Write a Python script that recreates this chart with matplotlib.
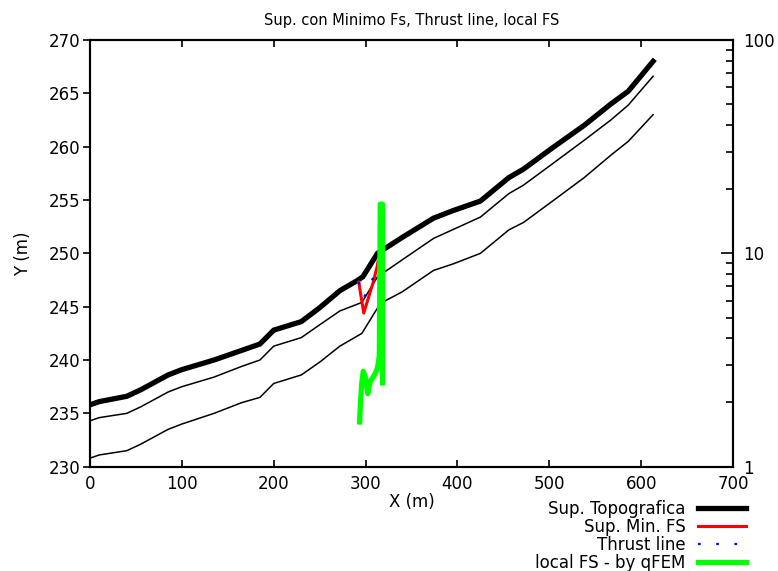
import matplotlib
matplotlib.use("Agg")
import matplotlib.pyplot as plt
from matplotlib.ticker import FixedLocator, LogLocator, NullFormatter, FuncFormatter

# ---- data ----
topo_x = [0, 10, 40, 55, 85, 100, 135, 165, 185, 200, 230, 250, 272, 290, 297,
          313, 340, 374, 395, 425, 456, 472, 502, 538, 567, 586, 613]
topo_y = [235.8, 236.1, 236.6, 237.2, 238.6, 239.1, 240.0, 240.9, 241.5, 242.8,
          243.6, 244.9, 246.5, 247.4, 247.8, 250.0, 251.5, 253.3, 254.0, 254.9,
          257.1, 257.9, 259.8, 262.0, 264.0, 265.2, 268.0]

layer1_x = [0, 10, 40, 55, 85, 100, 135, 165, 185, 200, 230, 250, 272, 296,
            313, 340, 374, 425, 456, 472, 502, 538, 567, 586, 613]
layer1_y = [234.3, 234.6, 235.0, 235.6, 237.0, 237.5, 238.4, 239.4, 240.0, 241.3,
            242.1, 243.3, 244.6, 245.4, 247.8, 249.4, 251.4, 253.4, 255.6, 256.4,
            258.3, 260.6, 262.5, 263.9, 266.6]

layer2_x = [0, 10, 40, 55, 85, 100, 135, 165, 185, 200, 230, 250, 272, 296,
            316, 340, 374, 395, 425, 456, 472, 502, 538, 567, 586, 613]
layer2_y = [230.8, 231.1, 231.5, 232.1, 233.5, 234.0, 235.0, 236.0, 236.5, 237.8,
            238.6, 239.8, 241.3, 242.5, 245.3, 246.4, 248.4, 249.0, 250.0, 252.2,
            252.9, 254.8, 257.1, 259.2, 260.5, 263.0]

slip_x = [292.6, 295, 298, 303, 308, 312.6, 313.5]
slip_y = [247.3, 246.0, 244.4, 245.8, 247.2, 248.75, 249.2]

thrust_x = [292.6, 298, 306.4, 312.6]
thrust_y = [247.3, 245.8, 247.3, 248.8]

fs_x = [293.5, 294.5, 296, 297.5, 300, 302.5, 305, 310, 313, 315, 316, 318.5, 318.5]
fs_y = [1.62, 2.0, 2.5, 2.8, 2.6, 2.2, 2.5, 2.7, 2.9, 3.3, 17.0, 17.0, 2.47]

xticks = [0, 100, 200, 300, 400, 500, 600, 700]
yticks = [230, 235, 240, 245, 250, 255, 260, 265, 270]

plt.rcParams['font.family'] = ['DejaVu Sans']
fig = plt.figure(figsize=(7.78, 5.71), dpi=100)
ax = fig.add_axes([90/778, 1-466.7/571, (733-90)/778, (466.7-40)/571])

l_topo, = ax.plot(topo_x, topo_y, color='black', lw=3.8, solid_joinstyle='miter',
                  label='Sup. Topografica')
ax.plot(layer1_x, layer1_y, color='black', lw=1.1)
ax.plot(layer2_x, layer2_y, color='black', lw=1.1)
l_slip, = ax.plot(slip_x, slip_y, color='#ff0000', lw=2.2, label='Sup. Min. FS')
l_thr, = ax.plot(thrust_x, thrust_y, color='#0000ff', lw=1.6,
                 linestyle=(0, (1.2, 7)), label='Thrust line')

ax.set_xlim(0, 700)
ax.set_ylim(230, 270)
ax.xaxis.set_major_locator(FixedLocator(xticks))
ax.yaxis.set_major_locator(FixedLocator(yticks))
ax.tick_params(axis='x', direction='in', top=True, length=5, width=1.2,
               labelsize=12, pad=6)
ax.tick_params(axis='y', direction='out', length=5, width=1.2, labelsize=12,
               right=False, pad=2)
for s in ax.spines.values():
    s.set_linewidth(1.5)

ax2 = ax.twinx()
l_fs, = ax2.plot(fs_x, fs_y, color='#00ff00', lw=3.8, label='local FS - by qFEM')
ax2.set_yscale('log')
ax2.set_ylim(1, 100)
ax2.yaxis.set_major_locator(LogLocator(base=10, numticks=5))
ax2.yaxis.set_minor_locator(LogLocator(base=10, subs=range(2, 10), numticks=10))
ax2.yaxis.set_minor_formatter(NullFormatter())
ax2.yaxis.set_major_formatter(FuncFormatter(lambda v, p: f"{v:g}"))
ax2.tick_params(axis='y', which='major', direction='in', length=9, width=1.2,
                labelsize=12, pad=7)
ax2.tick_params(axis='y', which='minor', direction='in', length=5, width=1.2)
for s in ax2.spines.values():
    s.set_linewidth(1.5)

ax.set_title('Sup. con Minimo Fs, Thrust line, local FS', fontsize=10.5, pad=11)
ax.set_xlabel('X (m)', fontsize=12, labelpad=0)
ax.set_ylabel('Y (m)', fontsize=12, labelpad=12)

fig.legend(handles=[l_topo, l_slip, l_thr, l_fs], loc='upper right',
           bbox_to_anchor=(746/778, 1-500/571), frameon=False, markerfirst=False,
           fontsize=12, handlelength=2.9, handletextpad=0.72, labelspacing=0.0,
           borderpad=0, borderaxespad=0)

fig.savefig('out.png', dpi=100)
